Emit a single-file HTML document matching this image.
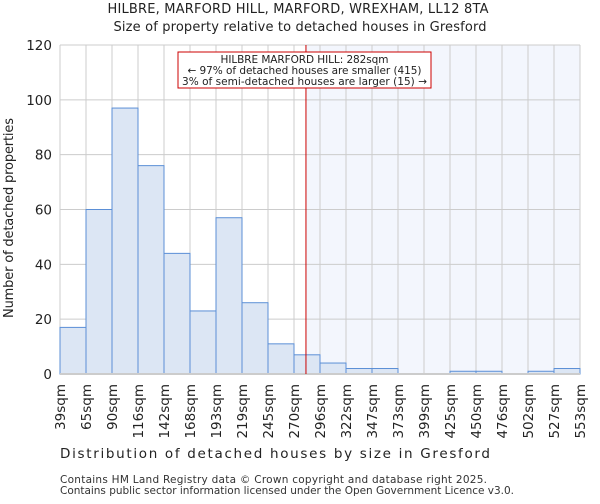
<!DOCTYPE html>
<html><head><meta charset="utf-8"><style>
body{margin:0;background:#fff;font-family:"DejaVu Sans","Liberation Sans",sans-serif;}
</style></head><body>
<svg id="c" width="600" height="500" xmlns="http://www.w3.org/2000/svg" font-family="DejaVu Sans, Liberation Sans, sans-serif">
<text x="298" y="13" text-anchor="middle" font-size="13" textLength="381" fill="#222">HILBRE, MARFORD HILL, MARFORD, WREXHAM, LL12 8TA</text>
<text x="300" y="31" text-anchor="middle" font-size="13" textLength="373" fill="#222">Size of property relative to detached houses in Gresford</text>
<g id="plot"></g>
<text x="275" y="458" text-anchor="middle" font-size="13.5" textLength="430" fill="#222">Distribution of detached houses by size in Gresford</text>
<text transform="translate(13,218) rotate(-90)" text-anchor="middle" font-size="13" textLength="200" fill="#222">Number of detached properties</text>
<text x="60" y="483" font-size="10.5" textLength="427" fill="#333">Contains HM Land Registry data © Crown copyright and database right 2025.</text>
<text x="60" y="494" font-size="10.5" textLength="454" fill="#333">Contains public sector information licensed under the Open Government Licence v3.0.</text>
</svg>
<script>
const tickLabels=["39sqm","65sqm","90sqm","116sqm","142sqm","168sqm","193sqm","219sqm","245sqm","270sqm","296sqm","322sqm","347sqm","373sqm","399sqm","425sqm","450sqm","476sqm","502sqm","527sqm","553sqm"];
const counts=[17,60,97,76,44,23,57,26,11,7,4,2,2,0,0,1,1,0,1,2];
const yTicks=[0,20,40,60,80,100,120];
const propertyBinPos=9.46;
const NS="http://www.w3.org/2000/svg";
const g=document.getElementById('plot');
const X0=60,X1=580,Y0=374,Y1=45,YMAX=120;
const bw=(X1-X0)/counts.length;
const xs=i=>X0+i*bw;
const ys=v=>Y0-(v/YMAX)*(Y0-Y1);
function mk(t,a){const e=document.createElementNS(NS,t);for(const k in a)e.setAttribute(k,a[k]);g.appendChild(e);return e;}
const px=xs(propertyBinPos);
let sh=mk('rect',{x:px,y:Y1,width:X1-px,height:Y0-Y1,fill:'#f3f6fd'});


yTicks.forEach(v=>{
 let l=mk('line',{x1:X0,x2:X1,y1:ys(v),y2:ys(v),stroke:'#ccc'});
 
 
 let t=mk('text',{x:X0-8,y:ys(v)+5,'text-anchor':'end','font-size':13.5,fill:'#222'});
 t.textContent=v;
 
 
});
tickLabels.forEach((s,i)=>{
 let l=mk('line',{x1:xs(i),x2:xs(i),y1:Y1,y2:Y0,stroke:'#ccc'});
 
 
 let t=mk('text',{transform:`translate(${xs(i)+5},${Y0+10}) rotate(-90)`,'text-anchor':'end','font-size':13.5,fill:'#222'});
 t.textContent=s;
 
 
});
counts.forEach((v,i)=>{
 if(v<=0)return;
 let r=mk('rect',{x:xs(i),y:ys(v),width:bw,height:Y0-ys(v),fill:'#dce6f4',stroke:'#5b8fd6','stroke-width':1});
 
 
});
let ax=mk('line',{x1:X0,x2:X1,y1:Y0,y2:Y0,stroke:'#ccc','stroke-width':2});


let rl=mk('line',{x1:px,x2:px,y1:Y1,y2:Y0,stroke:'#cc0000','stroke-width':1});


let bx=mk('rect',{x:178,y:52,width:253,height:36,fill:'#fff',stroke:'#cc0000'});


[["HILBRE MARFORD HILL: 282sqm",168],["← 97% of detached houses are smaller (415)",234],["3% of semi-detached houses are larger (15) →",245]].forEach((s,i)=>{
 let t=mk('text',{x:304.5,y:63+i*11,'text-anchor':'middle','font-size':10.5,textLength:s[1],fill:'#222'});
 t.textContent=s[0];
 
 
});
</script>
</body></html>
